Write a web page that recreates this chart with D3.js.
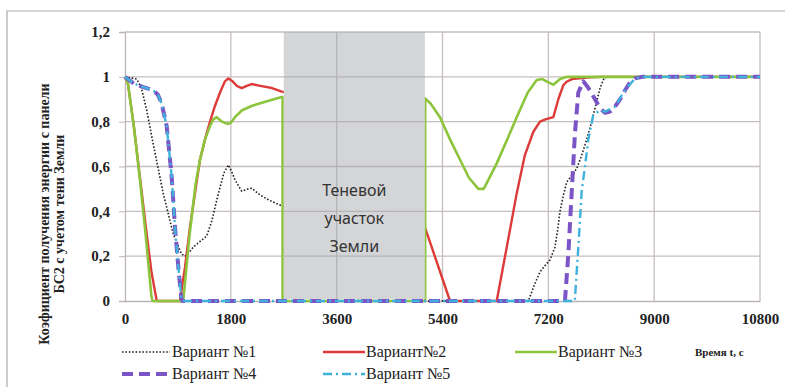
<!DOCTYPE html>
<html>
<head>
<meta charset="utf-8">
<script src="https://cdn.jsdelivr.net/npm/d3@7"></script>
<style>
  body { margin: 0; background: #fff; }
  svg { display: block; }
</style>
</head>
<body>
<div id="chart"></div>
<script>
// time (s) / coefficient pairs
const variant1 = [[0,1],[200,0.99],[280,0.95],[370,0.85],[480,0.70],[650,0.48],[820,0.30],[960,0.21],[1020,0.2],[1100,0.22],[1160,0.24],[1250,0.26],[1390,0.29],[1480,0.36],[1560,0.45],[1680,0.57],[1757,0.607],[1810,0.58],[1871,0.54],[1985,0.49],[2090,0.50],[2155,0.503],[2296,0.473],[2450,0.45],[2636,0.428],[2750,0.41],[4000,0],[6860,0],[6960,0.07],[7058,0.13],[7150,0.16],[7228,0.183],[7313,0.24],[7360,0.32],[7398,0.40],[7455,0.47],[7512,0.53],[7597,0.56],[7682,0.59],[7767,0.65],[7852,0.72],[7937,0.8],[8022,0.89],[8080,0.95],[8150,0.995],[8220,1],[10800,1]];
const variant2 = [[0,1],[50,0.97],[150,0.78],[250,0.56],[350,0.34],[450,0.13],[540,0],[935,0],[1020,0.15],[1105,0.33],[1190,0.48],[1275,0.63],[1360,0.72],[1446,0.80],[1530,0.87],[1616,0.93],[1700,0.98],[1757,0.993],[1830,0.98],[1900,0.96],[1985,0.95],[2070,0.96],[2155,0.968],[2300,0.96],[2500,0.95],[2665,0.934],[2750,0.93],[5100,0.33],[5528,0],[6322,0],[6500,0.25],[6662,0.48],[6800,0.65],[6945,0.755],[7058,0.80],[7150,0.81],[7285,0.82],[7370,0.9],[7455,0.963],[7512,0.978],[7600,0.99],[7908,0.998],[8100,1],[10800,1]];
const variant3 = [[0,1],[50,0.97],[150,0.78],[250,0.55],[350,0.3],[450,0.02],[470,0],[990,0],[1100,0.3],[1200,0.52],[1275,0.63],[1360,0.72],[1446,0.78],[1500,0.81],[1559,0.82],[1650,0.8],[1740,0.79],[1800,0.795],[1870,0.82],[1985,0.85],[2150,0.87],[2400,0.89],[2665,0.91],[2680,0.91],[2680,0],[5105,0],[5105,0.904],[5200,0.88],[5357,0.82],[5530,0.72],[5698,0.63],[5850,0.55],[6009,0.5],[6100,0.5],[6200,0.55],[6322,0.614],[6500,0.72],[6662,0.82],[6850,0.93],[7002,0.986],[7100,0.99],[7200,0.975],[7285,0.965],[7400,0.99],[7512,1.0],[10800,1]];
const variant4 = [[0,1],[150,0.97],[300,0.955],[480,0.94],[560,0.92],[624,0.88],[709,0.78],[794,0.555],[850,0.33],[907,0.15],[960,0.01],[980,0],[7483,0],[7540,0.21],[7597,0.48],[7653,0.75],[7710,0.93],[7795,0.98],[7870,0.955],[7937,0.926],[8079,0.86],[8164,0.84],[8250,0.845],[8334,0.867],[8420,0.9],[8504,0.94],[8590,0.975],[8674,0.993],[8800,1],[10800,1]];
const variant5 = [[0,1],[150,0.97],[300,0.955],[480,0.94],[560,0.92],[624,0.88],[709,0.78],[794,0.555],[850,0.33],[907,0.15],[960,0.01],[980,0],[7650,0],[7710,0.24],[7767,0.49],[7823,0.6],[7880,0.72],[7965,0.83],[8079,0.85],[8164,0.845],[8334,0.867],[8504,0.94],[8674,0.993],[8800,1],[10800,1]];

const xTicks = [0, 1800, 3600, 5400, 7200, 9000, 10800];
const yTicks = [0, 0.2, 0.4, 0.6, 0.8, 1, 1.2];
const shadow = [2700, 5100];
const shadowLabel = ["Теневой", "участок", "Земли"];
const yTitle = ["Коэфициент получения энергии с панели", "БС2 с учетом  тени Земли"];
const xTitle = "Время t, с";

const width = 785, height = 387;

const svg = d3.select("#chart").append("svg")
  .attr("width", width)
  .attr("height", height);

// outer frame (only top and left edges show)
svg.append("path")
  .attr("d", "M7,387 V11 H785")
  .attr("fill", "none")
  .attr("stroke", "#b0aaaa")
  .attr("stroke-width", 1.2);

const x = d3.scaleLinear().domain([0, 10800]).range([125, 760]);
const y = d3.scaleLinear().domain([0, 1.2]).range([301, 32]);

const gridColor = "#c6bebe";

function drawGrid(g) {
  g.selectAll(".h").data(yTicks.slice(1)).enter().append("line")
    .attr("x1", x(0)).attr("x2", x(10800))
    .attr("y1", d => y(d)).attr("y2", d => y(d))
    .attr("stroke", gridColor).attr("stroke-width", 1.3);
  g.selectAll(".v").data(xTicks.slice(1)).enter().append("line")
    .attr("x1", d => x(d)).attr("x2", d => x(d))
    .attr("y1", y(0)).attr("y2", y(1.2))
    .attr("stroke", gridColor).attr("stroke-width", 1.3);
}

drawGrid(svg.append("g"));

// axes
const fmt = d => String(d).replace(".", ",");
const yAxis = svg.append("g")
  .attr("transform", `translate(${x(0)},0)`)
  .call(d3.axisLeft(y).tickValues(yTicks).tickSize(6).tickPadding(9).tickFormat(fmt));
const xAxis = svg.append("g")
  .attr("transform", `translate(0,${y(0)})`)
  .call(d3.axisBottom(x).tickValues(xTicks).tickSize(0).tickPadding(12).tickFormat(d => d));

[yAxis, xAxis].forEach(a => {
  a.select(".domain").attr("stroke", "#bdb5b5").attr("stroke-width", 1.3);
  a.selectAll(".tick line").attr("stroke", "#bdb5b5");
  a.selectAll("text")
    .attr("fill", "#222")
    .style("font-family", "'Liberation Serif', 'Times New Roman', serif")
    .style("font-weight", "bold")
    .style("font-size", "15px");
});

// series
const line = d3.line().x(d => x(d[0])).y(d => y(d[1]));

const series = [
  { name: "Вариант №1", data: variant1, color: "#222", width: 1.6, dash: "1.6,1.8" },
  { name: "Вариант№2", data: variant2, color: "#dd3a3a", width: 2.4, dash: null },
  { name: "Вариант №3", data: variant3, color: "#8cc43c", width: 2.6, dash: null },
  { name: "Вариант №4", data: variant4, color: "#7b55c6", width: 4, dash: "11,6" },
  { name: "Вариант №5", data: variant5, color: "#3fb2dc", width: 2.4, dash: "9,4,2,4" }
];

svg.append("g").selectAll("path")
  .data(series)
  .enter().append("path")
  .attr("d", d => line(d.data))
  .attr("fill", "none")
  .attr("stroke", d => d.color)
  .attr("stroke-width", d => d.width)
  .attr("stroke-dasharray", d => d.dash)
  .attr("stroke-linejoin", "round");

// Earth shadow block
svg.append("rect")
  .attr("x", x(shadow[0]))
  .attr("y", y(1.2))
  .attr("width", x(shadow[1]) - x(shadow[0]))
  .attr("height", y(0) - y(1.2) - 2)
  .attr("fill", "#d4d5d7");

svg.append("clipPath").attr("id", "shadowClip")
  .append("rect")
  .attr("x", x(shadow[0]))
  .attr("y", y(1.2))
  .attr("width", x(shadow[1]) - x(shadow[0]))
  .attr("height", y(0) - y(1.2) - 2);

const gridOver = svg.append("g").attr("clip-path", "url(#shadowClip)");
drawGrid(gridOver);
gridOver.selectAll("line").attr("stroke", "#b4b4b6");

svg.append("text")
  .attr("x", (x(shadow[0]) + x(shadow[1])) / 2)
  .attr("y", 196)
  .attr("text-anchor", "middle")
  .attr("fill", "#333")
  .style("font-family", "'Noto Sans', 'Open Sans', sans-serif")
  .style("font-size", "16px")
  .selectAll("tspan")
  .data(shadowLabel)
  .enter().append("tspan")
  .attr("x", (x(shadow[0]) + x(shadow[1])) / 2)
  .attr("dy", (d, i) => i === 0 ? 0 : 28)
  .text(d => d);

// y axis title
const yt = svg.append("text")
  .attr("transform", "translate(49,214) rotate(-90)")
  .attr("text-anchor", "middle")
  .attr("fill", "#222")
  .style("font-family", "'Liberation Serif', 'Times New Roman', serif")
  .style("font-weight", "bold")
  .style("font-size", "14px");
yt.selectAll("tspan").data(yTitle).enter().append("tspan")
  .attr("x", 0)
  .attr("dy", (d, i) => i === 0 ? 0 : 15)
  .text(d => d);

// legend
const legendPos = [
  { x: 122, y: 352 }, { x: 323, y: 352 }, { x: 515, y: 352 },
  { x: 122, y: 374 }, { x: 323, y: 374 }
];
const legend = svg.append("g").selectAll("g")
  .data(series)
  .enter().append("g")
  .attr("transform", (d, i) => `translate(${legendPos[i].x},${legendPos[i].y})`);

legend.append("line")
  .attr("x1", 0).attr("x2", (d, i) => i === 0 || i === 3 ? 48 : 42)
  .attr("stroke", d => d.color)
  .attr("stroke-width", d => d.width)
  .attr("stroke-dasharray", d => d.dash);

legend.append("text")
  .attr("x", (d, i) => i === 0 || i === 3 ? 50 : 43)
  .attr("y", 5)
  .attr("fill", "#222")
  .style("font-family", "'Liberation Serif', 'Times New Roman', serif")
  .style("font-size", "16px")
  .text(d => d.name);

svg.append("text")
  .attr("x", 695)
  .attr("y", 356)
  .attr("fill", "#222")
  .style("font-family", "'Liberation Serif', 'Times New Roman', serif")
  .style("font-weight", "bold")
  .style("font-size", "11px")
  .text(xTitle);
</script>
</body>
</html>
